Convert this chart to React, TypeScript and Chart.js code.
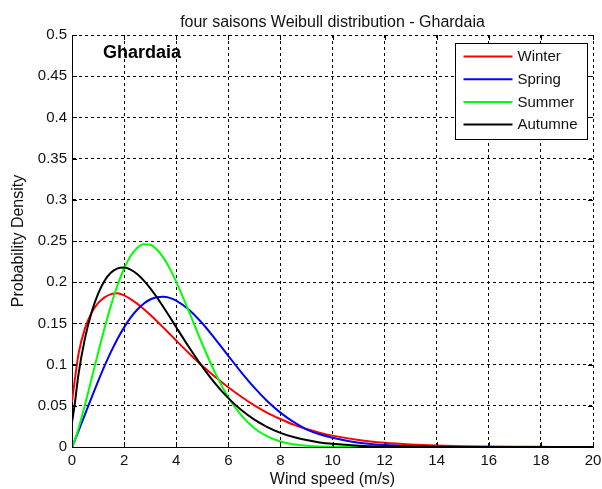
import React, { useEffect, useRef } from 'react';
import { Chart, registerables } from 'chart.js';

Chart.register(...registerables);

const FONT = '"Liberation Sans", Arial, Helvetica, sans-serif';

const chartTitle = 'four saisons Weibull distribution - Ghardaia';
const stationLabel = 'Ghardaia';
const xAxisTitle = 'Wind speed (m/s)';
const yAxisTitle = 'Probability Density';

const xTicks = [0, 2, 4, 6, 8, 10, 12, 14, 16, 18, 20];
const xTickLabels = ['0', '2', '4', '6', '8', '10', '12', '14', '16', '18', '20'];
const yTicks = [0, 0.05, 0.1, 0.15, 0.2, 0.25, 0.3, 0.35, 0.4, 0.45, 0.5];
const yTickLabels = ['0', '0.05', '0.1', '0.15', '0.2', '0.25', '0.3', '0.35', '0.4', '0.45', '0.5'];

const seasons = ['Winter', 'Spring', 'Summer', 'Autumne'];
const seasonColors = ['#ff0000', '#0000ff', '#00ff00', '#000000'];

const speeds = [0, 0.1, 0.25, 0.5, 0.75, 1, 1.25, 1.5, 1.75, 2, 2.25, 2.5, 2.75, 3, 3.25, 3.5, 3.75, 4, 4.5, 5, 5.5, 6, 6.5, 7, 7.5, 8, 8.5, 9, 9.5, 10, 11, 12, 13, 14, 15, 16, 17, 18, 19, 20];

const winter = [0.055, 0.0796, 0.1131, 0.1443, 0.1628, 0.1745, 0.1815, 0.1855, 0.1865, 0.184, 0.1795, 0.174, 0.1675, 0.1605, 0.153, 0.1452, 0.1372, 0.1292, 0.1135, 0.0985, 0.085, 0.0725, 0.061, 0.0505, 0.0415, 0.034, 0.0272, 0.0218, 0.0174, 0.0138, 0.0086, 0.0052, 0.0031, 0.0018, 0.001, 0.0006, 0.0003, 0.0002, 0.0001, 0.0001];
const spring = [0, 0.0074, 0.0193, 0.0397, 0.06, 0.0796, 0.0984, 0.1157, 0.1314, 0.1452, 0.157, 0.1666, 0.1739, 0.179, 0.1817, 0.1823, 0.181, 0.1777, 0.1663, 0.1502, 0.131, 0.1107, 0.0906, 0.072, 0.0555, 0.0417, 0.0304, 0.0215, 0.0155, 0.0112, 0.0052, 0.0024, 0.001, 0.0004, 0.0001, 0, 0, 0, 0, 0];
const summer = [0, 0.0074, 0.0225, 0.0515, 0.0827, 0.1141, 0.1444, 0.1722, 0.1966, 0.2166, 0.2317, 0.2416, 0.2461, 0.2454, 0.2399, 0.2301, 0.2168, 0.2007, 0.1636, 0.125, 0.0897, 0.0603, 0.0383, 0.0228, 0.0128, 0.0067, 0.0033, 0.0015, 0.0006, 0.0003, 0.00005, 0, 0, 0, 0, 0, 0, 0, 0, 0];
const autumn = [0.03, 0.0507, 0.0885, 0.1321, 0.1633, 0.1859, 0.2017, 0.2117, 0.2168, 0.2178, 0.2153, 0.21, 0.2023, 0.1928, 0.182, 0.1702, 0.158, 0.1454, 0.1207, 0.0975, 0.0769, 0.0593, 0.0448, 0.0332, 0.0242, 0.0172, 0.0121, 0.0084, 0.0056, 0.0038, 0.0016, 0.0006, 0.0002, 0.0001, 0, 0, 0, 0, 0, 0];

const seriesValues = [winter, spring, summer, autumn];

const decorPlugin = {
  id: 'decor',
  afterDatasetsDraw(chart: any) {
    const { ctx, chartArea: a } = chart;
    const boxW = 132;
    const boxH = 96;
    const bx = Math.round(a.right - 6 - boxW) + 0.5;
    const by = Math.round(a.top + 8) + 0.5;
    ctx.save();
    ctx.setLineDash([]);
    ctx.fillStyle = '#ffffff';
    ctx.fillRect(bx, by, boxW, boxH);
    ctx.strokeStyle = '#000000';
    ctx.lineWidth = 1;
    ctx.strokeRect(bx, by, boxW, boxH);
    ctx.font = `15px ${FONT}`;
    ctx.textAlign = 'left';
    ctx.textBaseline = 'middle';
    chart.data.datasets.forEach((ds: any, i: number) => {
      const yy = by + 13 + i * 22.7;
      ctx.strokeStyle = ds.borderColor;
      ctx.lineWidth = 2;
      ctx.beginPath();
      ctx.moveTo(bx + 8, yy);
      ctx.lineTo(bx + 57, yy);
      ctx.stroke();
      ctx.fillStyle = '#111111';
      ctx.fillText(ds.label, bx + 62, yy + 0.5);
    });
    ctx.restore();
  },
  afterDraw(chart: any) {
    const { ctx, chartArea: a, scales } = chart;
    const xs = scales.x;
    const ys = scales.y;
    ctx.save();
    ctx.setLineDash([]);
    ctx.strokeStyle = '#000000';
    ctx.lineWidth = 1;
    ctx.beginPath();
    xTicks.forEach((v) => {
      const px = Math.round(xs.getPixelForValue(v)) + 0.5;
      ctx.moveTo(px, a.bottom);
      ctx.lineTo(px, a.bottom - 5);
      ctx.moveTo(px, a.top);
      ctx.lineTo(px, a.top + 5);
    });
    yTicks.forEach((v) => {
      const py = Math.round(ys.getPixelForValue(v)) + 0.5;
      ctx.moveTo(a.left, py);
      ctx.lineTo(a.left + 5, py);
      ctx.moveTo(a.right, py);
      ctx.lineTo(a.right - 5, py);
    });
    ctx.stroke();

    ctx.fillStyle = '#111111';
    ctx.font = `16px ${FONT}`;
    ctx.textAlign = 'center';
    ctx.textBaseline = 'alphabetic';
    ctx.fillText(chartTitle, (a.left + a.right) / 2, 27);

    ctx.fillStyle = '#000000';
    ctx.font = `bold 18px ${FONT}`;
    ctx.textAlign = 'left';
    ctx.fillText(stationLabel, xs.getPixelForValue(1.19), ys.getPixelForValue(0.472));
    ctx.restore();
  },
};

export default function App() {
  const canvasRef = useRef<HTMLCanvasElement | null>(null);

  useEffect(() => {
    document.body.style.margin = '0';
    const canvas = canvasRef.current;
    if (!canvas) return;

    const datasets = seasons.map((name, i) => ({
      label: name,
      data: speeds.map((s, j) => ({ x: s, y: seriesValues[i][j] })),
      borderColor: seasonColors[i],
      backgroundColor: seasonColors[i],
      borderWidth: 2,
      pointRadius: 0,
      fill: false,
      cubicInterpolationMode: 'monotone' as const,
      order: seasons.length - i,
    }));

    const chart = new Chart(canvas, {
      type: 'line',
      data: { datasets },
      plugins: [decorPlugin],
      options: {
        responsive: false,
        animation: false,
        events: [],
        layout: { padding: { top: 35, right: 9, left: 0, bottom: 0 } },
        plugins: {
          legend: { display: false },
          tooltip: { enabled: false },
          title: { display: false },
        },
        scales: {
          x: {
            type: 'linear',
            min: 0,
            max: 20,
            afterBuildTicks: (s: any) => {
              s.ticks = xTicks.map((v) => ({ value: v }));
            },
            afterFit: (s: any) => {
              s.height = 42;
              s.paddingRight = 0;
              s.paddingLeft = 0;
            },
            grid: { color: '#000000', lineWidth: 1, drawTicks: false },
            border: { display: true, color: '#000000', width: 1, dash: [3, 3] },
            ticks: {
              padding: 5,
              color: '#111111',
              font: { family: FONT, size: 15 },
              maxRotation: 0,
              autoSkip: false,
              callback: (_v: any, i: number) => xTickLabels[i],
            },
            title: {
              display: true,
              text: xAxisTitle,
              color: '#111111',
              font: { family: FONT, size: 16 },
              padding: { top: 0, bottom: 0 },
            },
          },
          y: {
            type: 'linear',
            min: 0,
            max: 0.5,
            afterBuildTicks: (s: any) => {
              s.ticks = yTicks.map((v) => ({ value: v }));
            },
            afterFit: (s: any) => {
              s.width = 72;
              s.paddingTop = 0;
              s.paddingBottom = 0;
            },
            grid: { color: '#000000', lineWidth: 1, drawTicks: false },
            border: { display: true, color: '#000000', width: 1, dash: [3, 3] },
            ticks: {
              padding: 5,
              color: '#111111',
              font: { family: FONT, size: 15 },
              autoSkip: false,
              callback: (_v: any, i: number) => yTickLabels[i],
            },
            title: {
              display: true,
              text: yAxisTitle,
              color: '#111111',
              font: { family: FONT, size: 16 },
              padding: { top: 9, bottom: 0 },
            },
          },
        },
      } as any,
    });

    return () => {
      chart.destroy();
    };
  }, []);

  return (
    <div style={{ width: 602, height: 489 }}>
      <canvas ref={canvasRef} width={602} height={489} style={{ display: 'block' }} />
    </div>
  );
}
